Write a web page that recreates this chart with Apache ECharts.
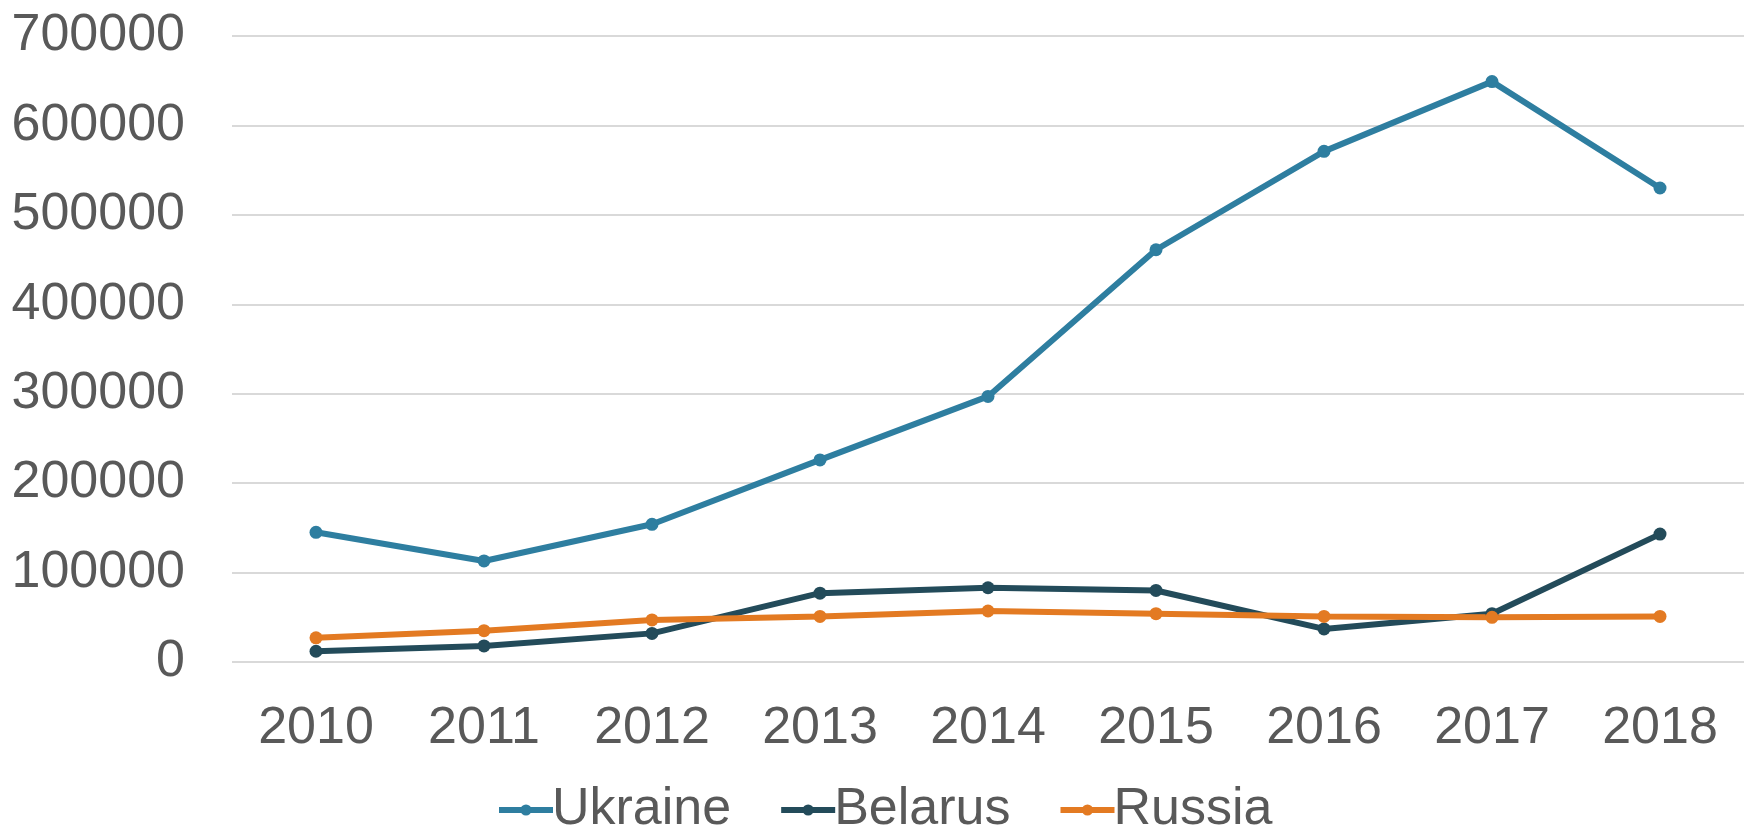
<!DOCTYPE html>
<html>
<head>
<meta charset="utf-8">
<script src="https://cdn.jsdelivr.net/npm/echarts@6/dist/echarts.min.js"></script>
<style>
  html, body { margin: 0; padding: 0; background: #fff; }
  #main { width: 1757px; height: 828px; }
</style>
</head>
<body>
<div id="main"></div>
<script>
const years = ['2010', '2011', '2012', '2013', '2014', '2015', '2016', '2017', '2018'];
const ukraine = [145000, 113000, 154000, 226000, 297000, 461000, 571000, 649000, 530000];
const belarus = [12000, 18000, 32000, 77000, 83000, 80000, 37000, 54000, 143000];
const russia = [27000, 35000, 47000, 51000, 57000, 54000, 51000, 50000, 51000];

const textColor = '#595959';
const font = 'Liberation Sans, Arial, sans-serif';

let myChart = echarts.init(document.getElementById('main'));

function lineSeries (name, data, color) {
    return {
        name: name,
        type: 'line',
        data: data,
        symbol: 'circle',
        symbolSize: 13,
        lineStyle: { width: 6, color: color },
        itemStyle: { color: color },
        emphasis: { disabled: true }
    };
}

myChart.setOption({
    animation: false,
    color: ['#2E7EA0', '#234B5A', '#E37A22'],
    grid: { left: 232, right: 13, top: 36, bottom: 166 },
    legend: {
        bottom: -13,
        left: 491,
        itemWidth: 54,
        itemHeight: 14,
        itemGap: 47,
        lineStyle: { width: 6 },
        textStyle: { fontFamily: font, fontSize: 52, color: textColor, padding: [0, 0, 0, -6] },
        data: ['Ukraine', 'Belarus', 'Russia']
    },
    xAxis: {
        type: 'category',
        data: years,
        boundaryGap: true,
        axisLine: { show: false },
        axisTick: { show: false },
        axisLabel: { fontFamily: font, fontSize: 52, color: textColor, margin: 41 }
    },
    yAxis: {
        type: 'value',
        min: 0,
        max: 700000,
        interval: 100000,
        axisLine: { show: false },
        axisTick: { show: false },
        splitLine: { lineStyle: { color: '#D9D9D9', width: 2 } },
        axisLabel: {
            fontFamily: font, fontSize: 52, color: textColor, margin: 47,
            formatter: (v) => String(v)
        }
    },
    series: [
        lineSeries('Ukraine', ukraine, '#2E7EA0'),
        lineSeries('Belarus', belarus, '#234B5A'),
        lineSeries('Russia', russia, '#E37A22')
    ]
});
</script>
</body>
</html>
